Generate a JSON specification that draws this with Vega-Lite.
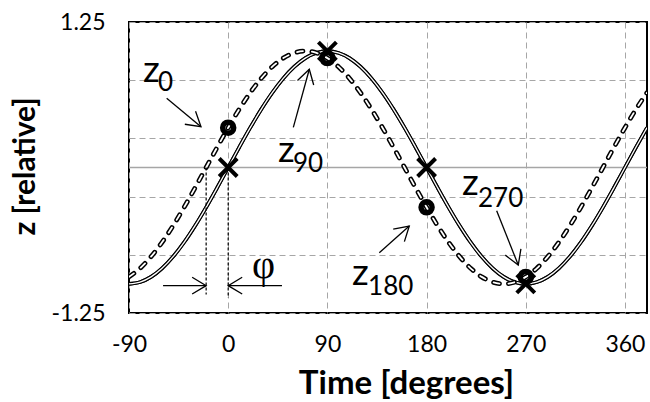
{
  "$schema": "https://vega.github.io/schema/vega-lite/v6.json",
  "width": 518,
  "height": 291,
  "autosize": {"type": "none"},
  "padding": {"left": 129, "top": 22, "right": 3, "bottom": 89},
  "background": "white",
  "config": {"view": {"stroke": "black", "strokeWidth": 2}, "font": "Lato"},
  "datasets": {
    "curves": [
      {"t": -90, "z": -1, "s": "solid"}, {"t": -80, "z": -0.9848, "s": "solid"}, {"t": -70, "z": -0.9397, "s": "solid"}, {"t": -60, "z": -0.866, "s": "solid"},
      {"t": -50, "z": -0.766, "s": "solid"}, {"t": -40, "z": -0.6428, "s": "solid"}, {"t": -30, "z": -0.5, "s": "solid"}, {"t": -20, "z": -0.342, "s": "solid"},
      {"t": -10, "z": -0.1736, "s": "solid"}, {"t": 0, "z": 0, "s": "solid"}, {"t": 10, "z": 0.1736, "s": "solid"}, {"t": 20, "z": 0.342, "s": "solid"},
      {"t": 30, "z": 0.5, "s": "solid"}, {"t": 40, "z": 0.6428, "s": "solid"}, {"t": 50, "z": 0.766, "s": "solid"}, {"t": 60, "z": 0.866, "s": "solid"},
      {"t": 70, "z": 0.9397, "s": "solid"}, {"t": 80, "z": 0.9848, "s": "solid"}, {"t": 90, "z": 1, "s": "solid"}, {"t": 100, "z": 0.9848, "s": "solid"},
      {"t": 110, "z": 0.9397, "s": "solid"}, {"t": 120, "z": 0.866, "s": "solid"}, {"t": 130, "z": 0.766, "s": "solid"}, {"t": 140, "z": 0.6428, "s": "solid"},
      {"t": 150, "z": 0.5, "s": "solid"}, {"t": 160, "z": 0.342, "s": "solid"}, {"t": 170, "z": 0.1736, "s": "solid"}, {"t": 180, "z": 0, "s": "solid"},
      {"t": 190, "z": -0.1736, "s": "solid"}, {"t": 200, "z": -0.342, "s": "solid"}, {"t": 210, "z": -0.5, "s": "solid"}, {"t": 220, "z": -0.6428, "s": "solid"},
      {"t": 230, "z": -0.766, "s": "solid"}, {"t": 240, "z": -0.866, "s": "solid"}, {"t": 250, "z": -0.9397, "s": "solid"}, {"t": 260, "z": -0.9848, "s": "solid"},
      {"t": 270, "z": -1, "s": "solid"}, {"t": 280, "z": -0.9848, "s": "solid"}, {"t": 290, "z": -0.9397, "s": "solid"}, {"t": 300, "z": -0.866, "s": "solid"},
      {"t": 310, "z": -0.766, "s": "solid"}, {"t": 320, "z": -0.6428, "s": "solid"}, {"t": 330, "z": -0.5, "s": "solid"}, {"t": 340, "z": -0.342, "s": "solid"},
      {"t": 350, "z": -0.1736, "s": "solid"}, {"t": 360, "z": 0, "s": "solid"}, {"t": 370, "z": 0.1736, "s": "solid"}, {"t": 380, "z": 0.342, "s": "solid"},
      {"t": -90, "z": -0.9397, "s": "dashed"}, {"t": -80, "z": -0.866, "s": "dashed"}, {"t": -70, "z": -0.766, "s": "dashed"}, {"t": -60, "z": -0.6428, "s": "dashed"},
      {"t": -50, "z": -0.5, "s": "dashed"}, {"t": -40, "z": -0.342, "s": "dashed"}, {"t": -30, "z": -0.1736, "s": "dashed"}, {"t": -20, "z": 0, "s": "dashed"},
      {"t": -10, "z": 0.1736, "s": "dashed"}, {"t": 0, "z": 0.342, "s": "dashed"}, {"t": 10, "z": 0.5, "s": "dashed"}, {"t": 20, "z": 0.6428, "s": "dashed"},
      {"t": 30, "z": 0.766, "s": "dashed"}, {"t": 40, "z": 0.866, "s": "dashed"}, {"t": 50, "z": 0.9397, "s": "dashed"}, {"t": 60, "z": 0.9848, "s": "dashed"},
      {"t": 70, "z": 1, "s": "dashed"}, {"t": 80, "z": 0.9848, "s": "dashed"}, {"t": 90, "z": 0.9397, "s": "dashed"}, {"t": 100, "z": 0.866, "s": "dashed"},
      {"t": 110, "z": 0.766, "s": "dashed"}, {"t": 120, "z": 0.6428, "s": "dashed"}, {"t": 130, "z": 0.5, "s": "dashed"}, {"t": 140, "z": 0.342, "s": "dashed"},
      {"t": 150, "z": 0.1736, "s": "dashed"}, {"t": 160, "z": 0, "s": "dashed"}, {"t": 170, "z": -0.1736, "s": "dashed"}, {"t": 180, "z": -0.342, "s": "dashed"},
      {"t": 190, "z": -0.5, "s": "dashed"}, {"t": 200, "z": -0.6428, "s": "dashed"}, {"t": 210, "z": -0.766, "s": "dashed"}, {"t": 220, "z": -0.866, "s": "dashed"},
      {"t": 230, "z": -0.9397, "s": "dashed"}, {"t": 240, "z": -0.9848, "s": "dashed"}, {"t": 250, "z": -1, "s": "dashed"}, {"t": 260, "z": -0.9848, "s": "dashed"},
      {"t": 270, "z": -0.9397, "s": "dashed"}, {"t": 280, "z": -0.866, "s": "dashed"}, {"t": 290, "z": -0.766, "s": "dashed"}, {"t": 300, "z": -0.6428, "s": "dashed"},
      {"t": 310, "z": -0.5, "s": "dashed"}, {"t": 320, "z": -0.342, "s": "dashed"}, {"t": 330, "z": -0.1736, "s": "dashed"}, {"t": 340, "z": 0, "s": "dashed"},
      {"t": 350, "z": 0.1736, "s": "dashed"}, {"t": 360, "z": 0.342, "s": "dashed"}, {"t": 370, "z": 0.5, "s": "dashed"}, {"t": 380, "z": 0.6428, "s": "dashed"}
    ],
    "circles": [{"t": 0, "z": 0.342}, {"t": 90, "z": 0.9397}, {"t": 180, "z": -0.342}, {"t": 270, "z": -0.9397}],
    "crosses": [{"t": 0, "z": 0}, {"t": 90, "z": 1}, {"t": 180, "z": 0}, {"t": 270, "z": -1}],
    "phiLines": [{"t": -20, "z": 0, "z2": -1.09}, {"t": 0, "z": 0, "z2": -1.12}],
    "arrows": [
      {"t": -55.8, "z": 0.5945, "t2": -24.7, "z2": 0.3505},
      {"t": 59.1, "z": 0.345, "t2": 73.6, "z2": 0.844},
      {"t": 137.1, "z": -0.732, "t2": 164.3, "z2": -0.503},
      {"t": 243.6, "z": -0.371, "t2": 263.2, "z2": -0.838},
      {"t": -59.1, "z": -1.015, "t2": -20, "z2": -1.015},
      {"t": 48.8, "z": -1.015, "t2": 0, "z2": -1.015}
    ],
    "mainLabels": [
      {"t": -77.3, "z": 0.735, "label": "z"},
      {"t": 45.2, "z": 0.047, "label": "z"},
      {"t": 112.3, "z": -1.009, "label": "z"},
      {"t": 212.2, "z": -0.236, "label": "z"}
    ],
    "subLabels": [
      {"t": -63.7, "z": 0.657, "label": "0"},
      {"t": 58.8, "z": -0.039, "label": "90"},
      {"t": 126.9, "z": -1.095, "label": "180"},
      {"t": 226.7, "z": -0.339, "label": "270"}
    ],
    "phiLabel": [{"t": 32, "z": -0.95, "label": "φ"}]
  },
  "layer": [
    {
      "data": {"name": "curves"},
      "transform": [{"filter": "datum.s == 'solid'"}],
      "mark": {"type": "line", "color": "black", "strokeWidth": 3.6, "interpolate": "monotone", "clip": true},
      "encoding": {
        "x": {
          "field": "t", "type": "quantitative",
          "scale": {"domain": [-90, 380], "nice": false, "zero": false},
          "axis": {
            "values": [-90, 0, 90, 180, 270, 360],
            "labelExpr": "toString(datum.value)",
            "grid": true, "gridDash": [6, 4], "gridColor": "#a6a6a6", "gridWidth": 1,
            "domain": false, "ticks": false,
            "labelFont": "Lato", "labelFontSize": 23, "labelColor": "black", "labelPadding": 20,
            "labelFlush": false, "labelOverlap": false,
            "title": "Time [degrees]", "titleFont": "Lato", "titleFontSize": 33, "titleFontWeight": "bold",
            "titleColor": "black", "titleX": 277, "titleY": 80, "titleAlign": "center", "titleBaseline": "alphabetic"
          }
        },
        "y": {
          "field": "z", "type": "quantitative",
          "scale": {"domain": [-1.25, 1.25], "nice": false, "zero": false},
          "axis": {
            "values": [-1.25, -1, -0.75, -0.5, -0.25, 0, 0.25, 0.5, 0.75, 1, 1.25],
            "labelExpr": "(abs(datum.value) == 1.25 || datum.value == 0) ? toString(datum.value) : ''",
            "grid": true, "gridDash": [6, 4], "gridColor": "#a6a6a6", "gridWidth": 1,
            "domain": false, "ticks": false,
            "labelFont": "Lato", "labelFontSize": 23, "labelColor": "black", "labelPadding": 24,
            "labelFlush": false, "labelOverlap": false,
            "title": "z [relative]", "titleFont": "Lato", "titleFontSize": 30, "titleFontWeight": "bold",
            "titleColor": "black", "titleX": -104, "titleY": 144, "titleAngle": 270, "titleAlign": "center", "titleBaseline": "middle"
          }
        }
      }
    },
    {
      "data": {"values": [{"z": 0}]},
      "mark": {"type": "rule", "color": "#a6a6a6", "strokeWidth": 1.5},
      "encoding": {"y": {"field": "z", "type": "quantitative"}}
    },
    {
      "data": {"name": "curves"},
      "transform": [{"filter": "datum.s == 'solid'"}],
      "mark": {"type": "line", "color": "black", "strokeWidth": 3.6, "interpolate": "monotone", "clip": true},
      "encoding": {"x": {"field": "t", "type": "quantitative"}, "y": {"field": "z", "type": "quantitative"}}
    },
    {
      "data": {"name": "curves"},
      "transform": [{"filter": "datum.s == 'solid'"}],
      "mark": {"type": "line", "color": "white", "strokeWidth": 1.3, "interpolate": "monotone", "clip": true},
      "encoding": {"x": {"field": "t", "type": "quantitative"}, "y": {"field": "z", "type": "quantitative"}}
    },
    {
      "data": {"name": "curves"},
      "transform": [{"filter": "datum.s == 'dashed'"}],
      "mark": {"type": "line", "color": "black", "strokeWidth": 4.8, "strokeCap": "round", "strokeDash": [6, 9], "interpolate": "monotone", "clip": true},
      "encoding": {"x": {"field": "t", "type": "quantitative"}, "y": {"field": "z", "type": "quantitative"}}
    },
    {
      "data": {"name": "curves"},
      "transform": [{"filter": "datum.s == 'dashed'"}],
      "mark": {"type": "line", "color": "white", "strokeWidth": 1.8, "strokeCap": "round", "strokeDash": [6, 9], "interpolate": "monotone", "clip": true},
      "encoding": {"x": {"field": "t", "type": "quantitative"}, "y": {"field": "z", "type": "quantitative"}}
    },
    {
      "data": {"name": "phiLines"},
      "mark": {"type": "rule", "color": "black", "strokeWidth": 1.2, "strokeDash": [3, 2]},
      "encoding": {"x": {"field": "t", "type": "quantitative"}, "y": {"field": "z", "type": "quantitative"}, "y2": {"field": "z2"}}
    },
    {
      "data": {"name": "arrows"},
      "mark": {"type": "rule", "color": "black", "strokeWidth": 1.3},
      "encoding": {"x": {"field": "t", "type": "quantitative"}, "y": {"field": "z", "type": "quantitative"}, "x2": {"field": "t2"}, "y2": {"field": "z2"}}
    },
    {
      "data": {"name": "arrows"},
      "mark": {
        "type": "point", "shape": "M-1,-0.6L0,0L-1,0.6", "filled": false, "stroke": "black", "strokeWidth": 1.3, "size": 784, "opacity": 1,
        "angle": {"expr": "atan2(scale('y', datum.z2) - scale('y', datum.z), scale('x', datum.t2) - scale('x', datum.t)) * 180 / PI"}
      },
      "encoding": {"x": {"field": "t2", "type": "quantitative"}, "y": {"field": "z2", "type": "quantitative"}}
    },
    {
      "data": {"name": "crosses"},
      "mark": {"type": "point", "shape": "M-1,-1L1,1M-1,1L1,-1", "filled": false, "stroke": "black", "strokeWidth": 4, "size": 324, "opacity": 1},
      "encoding": {"x": {"field": "t", "type": "quantitative"}, "y": {"field": "z", "type": "quantitative"}}
    },
    {
      "data": {"name": "circles"},
      "mark": {"type": "point", "shape": "circle", "filled": false, "stroke": "black", "strokeWidth": 5.5, "size": 121, "opacity": 1},
      "encoding": {"x": {"field": "t", "type": "quantitative"}, "y": {"field": "z", "type": "quantitative"}}
    },
    {
      "data": {"name": "mainLabels"},
      "mark": {"type": "text", "font": "Lato", "fontSize": 37, "align": "left", "baseline": "alphabetic", "color": "black"},
      "encoding": {"x": {"field": "t", "type": "quantitative"}, "y": {"field": "z", "type": "quantitative"}, "text": {"field": "label"}}
    },
    {
      "data": {"name": "subLabels"},
      "mark": {"type": "text", "font": "Lato", "fontSize": 26, "align": "left", "baseline": "alphabetic", "color": "black"},
      "encoding": {"x": {"field": "t", "type": "quantitative"}, "y": {"field": "z", "type": "quantitative"}, "text": {"field": "label"}}
    },
    {
      "data": {"name": "phiLabel"},
      "mark": {"type": "text", "font": "Liberation Serif", "fontSize": 40, "align": "center", "baseline": "alphabetic", "color": "black"},
      "encoding": {"x": {"field": "t", "type": "quantitative"}, "y": {"field": "z", "type": "quantitative"}, "text": {"field": "label"}}
    }
  ]
}
